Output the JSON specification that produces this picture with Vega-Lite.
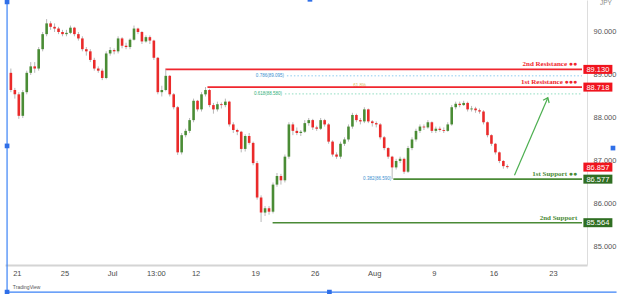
{
  "$schema": "https://vega.github.io/schema/vega-lite/v6.json",
  "width": 582,
  "height": 265,
  "autosize": {"type": "none"},
  "padding": {"left": 5, "right": 33, "top": 0, "bottom": 29},
  "background": "white",
  "config": {"view": {"stroke": null}},
  "resolve": {"scale": {"color": "independent"}},
  "datasets": {
    "candles": [
      {"n":0,"o":89.05,"h":89.15,"l":88.6,"c":88.65},
      {"n":1,"o":88.65,"h":88.7,"l":88.45,"c":88.55},
      {"n":2,"o":88.55,"h":88.6,"l":87.98,"c":88.05},
      {"n":3,"o":88.05,"h":88.65,"l":88.0,"c":88.6},
      {"n":4,"o":88.6,"h":89.1,"l":88.55,"c":89.05},
      {"n":5,"o":89.05,"h":89.3,"l":89.0,"c":89.2},
      {"n":6,"o":89.2,"h":89.3,"l":89.05,"c":89.15},
      {"n":7,"o":89.15,"h":89.65,"l":89.1,"c":89.6},
      {"n":8,"o":89.6,"h":90.0,"l":89.55,"c":89.95},
      {"n":9,"o":89.95,"h":90.3,"l":89.9,"c":90.2},
      {"n":10,"o":90.2,"h":90.25,"l":90.05,"c":90.12},
      {"n":11,"o":90.12,"h":90.2,"l":90.0,"c":90.08},
      {"n":12,"o":90.08,"h":90.12,"l":89.95,"c":90.0},
      {"n":13,"o":90.0,"h":90.05,"l":89.9,"c":89.95},
      {"n":14,"o":89.95,"h":90.05,"l":89.9,"c":89.98},
      {"n":15,"o":89.98,"h":90.15,"l":89.95,"c":90.1},
      {"n":16,"o":90.1,"h":90.12,"l":89.9,"c":89.95},
      {"n":17,"o":89.95,"h":90.0,"l":89.8,"c":89.85},
      {"n":18,"o":89.85,"h":89.9,"l":89.55,"c":89.6},
      {"n":19,"o":89.6,"h":89.65,"l":89.45,"c":89.55},
      {"n":20,"o":89.55,"h":89.6,"l":89.3,"c":89.35},
      {"n":21,"o":89.35,"h":89.4,"l":89.1,"c":89.15},
      {"n":22,"o":89.15,"h":89.2,"l":89.05,"c":89.1},
      {"n":23,"o":89.1,"h":89.15,"l":88.88,"c":88.93},
      {"n":24,"o":88.93,"h":89.55,"l":88.9,"c":89.5},
      {"n":25,"o":89.5,"h":89.65,"l":89.45,"c":89.58},
      {"n":26,"o":89.58,"h":89.62,"l":89.48,"c":89.55},
      {"n":27,"o":89.55,"h":89.9,"l":89.5,"c":89.85},
      {"n":28,"o":89.85,"h":89.88,"l":89.62,"c":89.68},
      {"n":29,"o":89.68,"h":89.75,"l":89.6,"c":89.65},
      {"n":30,"o":89.65,"h":89.85,"l":89.6,"c":89.82},
      {"n":31,"o":89.82,"h":90.15,"l":89.8,"c":90.08},
      {"n":32,"o":90.08,"h":90.1,"l":89.95,"c":90.0},
      {"n":33,"o":90.0,"h":90.02,"l":89.72,"c":89.78},
      {"n":34,"o":89.78,"h":89.92,"l":89.75,"c":89.88},
      {"n":35,"o":89.88,"h":89.92,"l":89.72,"c":89.8},
      {"n":36,"o":89.8,"h":89.82,"l":89.35,"c":89.4},
      {"n":37,"o":89.4,"h":89.42,"l":88.55,"c":88.6},
      {"n":38,"o":88.6,"h":88.75,"l":88.5,"c":88.65},
      {"n":39,"o":88.65,"h":89.13,"l":88.62,"c":88.98},
      {"n":40,"o":88.98,"h":89.0,"l":88.5,"c":88.55},
      {"n":41,"o":88.55,"h":88.58,"l":88.2,"c":88.25},
      {"n":42,"o":88.25,"h":88.28,"l":87.14,"c":87.2},
      {"n":43,"o":87.2,"h":87.65,"l":87.15,"c":87.6},
      {"n":44,"o":87.6,"h":87.75,"l":87.55,"c":87.7},
      {"n":45,"o":87.7,"h":88.0,"l":87.65,"c":87.95},
      {"n":46,"o":87.95,"h":88.45,"l":87.9,"c":88.4},
      {"n":47,"o":88.4,"h":88.42,"l":88.15,"c":88.2},
      {"n":48,"o":88.2,"h":88.6,"l":88.15,"c":88.55},
      {"n":49,"o":88.55,"h":88.72,"l":88.5,"c":88.65},
      {"n":50,"o":88.65,"h":88.68,"l":88.25,"c":88.3},
      {"n":51,"o":88.3,"h":88.35,"l":88.1,"c":88.2},
      {"n":52,"o":88.2,"h":88.38,"l":88.15,"c":88.32},
      {"n":53,"o":88.32,"h":88.36,"l":88.22,"c":88.3},
      {"n":54,"o":88.3,"h":88.45,"l":88.25,"c":88.38},
      {"n":55,"o":88.38,"h":88.4,"l":87.8,"c":87.85},
      {"n":56,"o":87.85,"h":87.9,"l":87.65,"c":87.72},
      {"n":57,"o":87.72,"h":87.75,"l":87.6,"c":87.68},
      {"n":58,"o":87.68,"h":87.7,"l":87.2,"c":87.28},
      {"n":59,"o":87.28,"h":87.62,"l":87.22,"c":87.58},
      {"n":60,"o":87.58,"h":87.65,"l":87.38,"c":87.42},
      {"n":61,"o":87.42,"h":87.45,"l":86.9,"c":86.95},
      {"n":62,"o":86.95,"h":87.0,"l":86.1,"c":86.15},
      {"n":63,"o":86.15,"h":86.2,"l":85.58,"c":85.8},
      {"n":64,"o":85.8,"h":85.95,"l":85.72,"c":85.9},
      {"n":65,"o":85.9,"h":85.95,"l":85.75,"c":85.82},
      {"n":66,"o":85.82,"h":86.5,"l":85.78,"c":86.45},
      {"n":67,"o":86.45,"h":86.72,"l":86.4,"c":86.65},
      {"n":68,"o":86.65,"h":86.7,"l":86.45,"c":86.55},
      {"n":69,"o":86.55,"h":87.15,"l":86.5,"c":87.1},
      {"n":70,"o":87.1,"h":87.9,"l":87.05,"c":87.85},
      {"n":71,"o":87.85,"h":87.9,"l":87.6,"c":87.7},
      {"n":72,"o":87.7,"h":87.78,"l":87.6,"c":87.65},
      {"n":73,"o":87.65,"h":87.72,"l":87.58,"c":87.68},
      {"n":74,"o":87.68,"h":87.95,"l":87.65,"c":87.88},
      {"n":75,"o":87.88,"h":88.0,"l":87.82,"c":87.95},
      {"n":76,"o":87.95,"h":87.98,"l":87.72,"c":87.78},
      {"n":77,"o":87.78,"h":87.82,"l":87.7,"c":87.75},
      {"n":78,"o":87.75,"h":88.0,"l":87.72,"c":87.95},
      {"n":79,"o":87.95,"h":87.98,"l":87.8,"c":87.85},
      {"n":80,"o":87.85,"h":87.88,"l":87.4,"c":87.45},
      {"n":81,"o":87.45,"h":87.48,"l":87.1,"c":87.15},
      {"n":82,"o":87.15,"h":87.2,"l":87.05,"c":87.1},
      {"n":83,"o":87.1,"h":87.45,"l":87.05,"c":87.4},
      {"n":84,"o":87.4,"h":87.55,"l":87.35,"c":87.5},
      {"n":85,"o":87.5,"h":87.85,"l":87.45,"c":87.8},
      {"n":86,"o":87.8,"h":88.12,"l":87.75,"c":88.07},
      {"n":87,"o":88.07,"h":88.1,"l":87.9,"c":87.95},
      {"n":88,"o":87.95,"h":88.0,"l":87.85,"c":87.92},
      {"n":89,"o":87.92,"h":88.25,"l":87.88,"c":88.2},
      {"n":90,"o":88.2,"h":88.22,"l":87.88,"c":87.92},
      {"n":91,"o":87.92,"h":87.95,"l":87.8,"c":87.88},
      {"n":92,"o":87.88,"h":87.92,"l":87.78,"c":87.85},
      {"n":93,"o":87.85,"h":87.88,"l":87.5,"c":87.55},
      {"n":94,"o":87.55,"h":87.58,"l":87.25,"c":87.3},
      {"n":95,"o":87.3,"h":87.32,"l":87.05,"c":87.1},
      {"n":96,"o":87.1,"h":87.12,"l":86.58,"c":86.85},
      {"n":97,"o":86.85,"h":87.05,"l":86.8,"c":87.0},
      {"n":98,"o":87.0,"h":87.1,"l":86.95,"c":87.05},
      {"n":99,"o":87.05,"h":87.08,"l":86.7,"c":86.75},
      {"n":100,"o":86.75,"h":87.35,"l":86.72,"c":87.3},
      {"n":101,"o":87.3,"h":87.55,"l":87.25,"c":87.5},
      {"n":102,"o":87.5,"h":87.75,"l":87.45,"c":87.7},
      {"n":103,"o":87.7,"h":87.85,"l":87.65,"c":87.8},
      {"n":104,"o":87.8,"h":87.85,"l":87.72,"c":87.78},
      {"n":105,"o":87.78,"h":87.95,"l":87.75,"c":87.9},
      {"n":106,"o":87.9,"h":87.92,"l":87.65,"c":87.7},
      {"n":107,"o":87.7,"h":87.8,"l":87.65,"c":87.75},
      {"n":108,"o":87.75,"h":87.8,"l":87.68,"c":87.72},
      {"n":109,"o":87.72,"h":87.78,"l":87.65,"c":87.7},
      {"n":110,"o":87.7,"h":87.9,"l":87.68,"c":87.85},
      {"n":111,"o":87.85,"h":88.3,"l":87.82,"c":88.25},
      {"n":112,"o":88.25,"h":88.38,"l":88.2,"c":88.33},
      {"n":113,"o":88.33,"h":88.38,"l":88.25,"c":88.3},
      {"n":114,"o":88.3,"h":88.4,"l":88.28,"c":88.35},
      {"n":115,"o":88.35,"h":88.38,"l":88.15,"c":88.2},
      {"n":116,"o":88.2,"h":88.28,"l":88.15,"c":88.22},
      {"n":117,"o":88.22,"h":88.26,"l":88.12,"c":88.18},
      {"n":118,"o":88.18,"h":88.22,"l":88.1,"c":88.15},
      {"n":119,"o":88.15,"h":88.18,"l":87.85,"c":87.9},
      {"n":120,"o":87.9,"h":87.92,"l":87.55,"c":87.6},
      {"n":121,"o":87.6,"h":87.62,"l":87.35,"c":87.4},
      {"n":122,"o":87.4,"h":87.42,"l":87.15,"c":87.2},
      {"n":123,"o":87.2,"h":87.22,"l":86.95,"c":87.0},
      {"n":124,"o":87.0,"h":87.02,"l":86.82,"c":86.88},
      {"n":125,"o":86.88,"h":86.92,"l":86.82,"c":86.857}
    ],
    "levels": [
      {"name": "2nd Resistance ●●", "p": 89.130, "s": 38.9, "kind": "res"},
      {"name": "1st Resistance ●●●", "p": 88.718, "s": 49.5, "kind": "res"},
      {"name": "1st Support ●●", "p": 86.577, "s": 96.3, "kind": "sup"},
      {"name": "2nd Support", "p": 85.564, "s": 65.9, "kind": "sup"}
    ],
    "fibs": [
      {"name": "0.786(89.095)", "p": 88.98, "s": 69.5, "kind": "a"},
      {"name": "0.618(88.580)", "p": 88.56, "s": 69.0, "kind": "b"}
    ],
    "tags": [
      {"p": 89.130, "kind": "res"},
      {"p": 88.718, "kind": "res"},
      {"p": 86.857, "kind": "res"},
      {"p": 86.577, "kind": "sup"},
      {"p": 85.564, "kind": "sup"}
    ],
    "arrow": [
      {"x1": 126.8, "y1": 86.67, "x2": 135.2, "y2": 88.47}
    ],
    "handles": [
      {"n": -0.96, "p": 90.70},
      {"n": -0.96, "p": 87.35},
      {"n": -0.96, "p": 83.95},
      {"n": 80.2, "p": 83.95},
      {"n": 75.3, "p": 90.76},
      {"n": 151.6, "p": 87.30}
    ]
  },
  "layer": [
    {
      "data": {"name": "fibs"},
      "mark": {"type": "rule", "strokeDash": [1.5, 2], "strokeWidth": 1},
      "encoding": {
        "x": {"field": "s", "type": "quantitative", "scale": {"domain": [-0.22, 143.8], "nice": false, "zero": false},
          "axis": {
            "orient": "bottom",
            "values": [1.5, 13.5, 25.5, 36.5, 46.5, 61.5, 76.5, 91.5, 106.5, 121.5, 136.5],
            "labelExpr": "datum.value == 1.5 ? '21' : datum.value == 13.5 ? '25' : datum.value == 25.5 ? 'Jul' : datum.value == 36.5 ? '13:00' : datum.value == 46.5 ? '12' : datum.value == 61.5 ? '19' : datum.value == 76.5 ? '26' : datum.value == 91.5 ? 'Aug' : datum.value == 106.5 ? '9' : datum.value == 121.5 ? '16' : '23'",
            "title": null, "grid": false, "ticks": false,
            "domainColor": "#d4d4d4", "domainWidth": 2,
            "labelFont": "Liberation Sans", "labelFontSize": 7.5, "labelColor": "#4a4a4a",
            "labelPadding": 4, "labelFlush": false
          }},
        "x2": {"datum": 143.8},
        "y": {"field": "p", "type": "quantitative", "scale": {"domain": [84.58, 90.744], "nice": false, "zero": false},
          "axis": {
            "orient": "right",
            "values": [85, 85.5, 86, 86.5, 87, 87.5, 88, 88.5, 89, 89.5, 90, 90.5],
            "format": ".3f", "title": null, "grid": false, "ticks": false,
            "domainColor": "#dddddd", "domainWidth": 1,
            "labelFont": "Liberation Sans", "labelFontSize": 7.5, "labelColor": "#555555",
            "labelPadding": 6, "labelOverlap": false, "labelFlush": false
          }},
        "color": {"field": "kind", "type": "nominal", "scale": {"domain": ["a", "b"], "range": ["#8ccbf0", "#8fdcc0"]}, "legend": null}
      }
    },
    {
      "data": {"name": "fibs"},
      "mark": {"type": "text", "align": "right", "dx": -3, "fontSize": 4.5, "font": "Liberation Sans"},
      "encoding": {
        "x": {"field": "s", "type": "quantitative"},
        "y": {"field": "p", "type": "quantitative"},
        "text": {"field": "name"},
        "color": {"field": "kind", "type": "nominal", "scale": {"domain": ["a", "b"], "range": ["#3a8fd0", "#2fb07a"]}, "legend": null}
      }
    },
    {
      "data": {"values": [{"label": "0.382(86.590)", "n": 96.0, "p": 86.577}]},
      "mark": {"type": "text", "align": "right", "dx": -1, "fontSize": 4.5, "font": "Liberation Sans", "color": "#3a8fd0"},
      "encoding": {
        "x": {"field": "n", "type": "quantitative"},
        "y": {"field": "p", "type": "quantitative"},
        "text": {"field": "label"}
      }
    },
    {
      "data": {"values": [{"label": "61.8%", "n": 87.8, "p": 88.74}]},
      "mark": {"type": "text", "align": "center", "fontSize": 4.5, "font": "Liberation Sans", "color": "#d8c060"},
      "encoding": {
        "x": {"field": "n", "type": "quantitative"},
        "y": {"field": "p", "type": "quantitative"},
        "text": {"field": "label"}
      }
    },
    {
      "data": {"name": "levels"},
      "mark": {"type": "rule", "strokeWidth": 1.6},
      "encoding": {
        "x": {"field": "s", "type": "quantitative"},
        "x2": {"datum": 143.8},
        "y": {"field": "p", "type": "quantitative"},
        "color": {"field": "kind", "type": "nominal", "scale": {"domain": ["res", "sup"], "range": ["#f0262e", "#4a8a36"]}, "legend": null}
      }
    },
    {
      "data": {"name": "candles"},
      "mark": {"type": "rule", "strokeWidth": 1, "color": "#b8b8b8"},
      "encoding": {
        "x": {"field": "n", "type": "quantitative"},
        "y": {"field": "l", "type": "quantitative"},
        "y2": {"field": "h"}
      }
    },
    {
      "data": {"name": "candles"},
      "mark": {"type": "bar", "size": 2.6},
      "encoding": {
        "x": {"field": "n", "type": "quantitative"},
        "y": {"field": "o", "type": "quantitative"},
        "y2": {"field": "c"},
        "color": {"condition": {"test": "datum.c >= datum.o", "value": "#4a8c35"}, "value": "#ea2a2a"}
      }
    },
    {
      "data": {"name": "levels"},
      "mark": {"type": "text", "align": "right", "baseline": "middle", "dy": -5, "fontSize": 7, "fontWeight": "bold", "font": "Liberation Serif"},
      "encoding": {
        "x": {"datum": 142.6},
        "y": {"field": "p", "type": "quantitative"},
        "text": {"field": "name"},
        "color": {"field": "kind", "type": "nominal", "scale": {"domain": ["res", "sup"], "range": ["#f0262e", "#4a8a36"]}, "legend": null}
      }
    },
    {
      "data": {"name": "arrow"},
      "mark": {"type": "rule", "strokeWidth": 1.2, "color": "#4caf50"},
      "encoding": {
        "x": {"field": "x1", "type": "quantitative"},
        "x2": {"field": "x2"},
        "y": {"field": "y1", "type": "quantitative"},
        "y2": {"field": "y2"}
      }
    },
    {
      "data": {"name": "arrow"},
      "mark": {"type": "point", "shape": "M-0.7,0.9L0,0L0.7,0.9", "filled": false, "size": 90, "angle": 24, "strokeWidth": 1.2, "color": "#4caf50", "opacity": 1},
      "encoding": {
        "x": {"field": "x2", "type": "quantitative"},
        "y": {"field": "y2", "type": "quantitative"}
      }
    },
    {
      "data": {"name": "tags"},
      "mark": {"type": "tick", "orient": "horizontal", "size": 29, "thickness": 9, "opacity": 1},
      "encoding": {
        "x": {"datum": 147.8},
        "y": {"field": "p", "type": "quantitative"},
        "color": {"field": "kind", "type": "nominal", "scale": {"domain": ["res", "sup"], "range": ["#f0141e", "#2f6e22"]}, "legend": null}
      }
    },
    {
      "data": {"name": "tags"},
      "mark": {"type": "text", "align": "center", "baseline": "middle", "fontSize": 7.5, "font": "Liberation Sans", "color": "white", "dy": 0.5},
      "encoding": {
        "x": {"datum": 147.8},
        "y": {"field": "p", "type": "quantitative"},
        "text": {"field": "p", "type": "quantitative", "format": ".3f"}
      }
    },
    {
      "data": {"values": [{"label": "JPY", "n": 149.8, "p": 90.68}]},
      "mark": {"type": "text", "align": "center", "baseline": "middle", "fontSize": 6.5, "font": "Liberation Sans", "color": "#8a8a8a"},
      "encoding": {
        "x": {"field": "n", "type": "quantitative"},
        "y": {"field": "p", "type": "quantitative"},
        "text": {"field": "label"}
      }
    },
    {
      "data": {"values": [{"label": "TradingView", "n": 0.5, "p": 84.07}]},
      "mark": {"type": "text", "align": "left", "fontSize": 5, "font": "Liberation Sans", "color": "#555555"},
      "encoding": {
        "x": {"field": "n", "type": "quantitative"},
        "y": {"field": "p", "type": "quantitative"},
        "text": {"field": "label"}
      }
    },
    {
      "data": {"values": [{"edge": "left"}]},
      "mark": {"type": "rule", "strokeWidth": 1.2, "color": "#3b82f6"},
      "encoding": {
        "x": {"datum": -0.96},
        "y": {"datum": 90.744},
        "y2": {"datum": 83.95}
      }
    },
    {
      "data": {"values": [{"edge": "bottom"}]},
      "mark": {"type": "rule", "strokeWidth": 1.2, "color": "#3b82f6"},
      "encoding": {
        "x": {"datum": -0.96},
        "x2": {"datum": 152.5},
        "y": {"datum": 83.95}
      }
    },
    {
      "data": {"name": "handles"},
      "mark": {"type": "square", "size": 22, "filled": true, "color": "#2f6fe8", "opacity": 1},
      "encoding": {
        "x": {"field": "n", "type": "quantitative"},
        "y": {"field": "p", "type": "quantitative"}
      }
    }
  ]
}
